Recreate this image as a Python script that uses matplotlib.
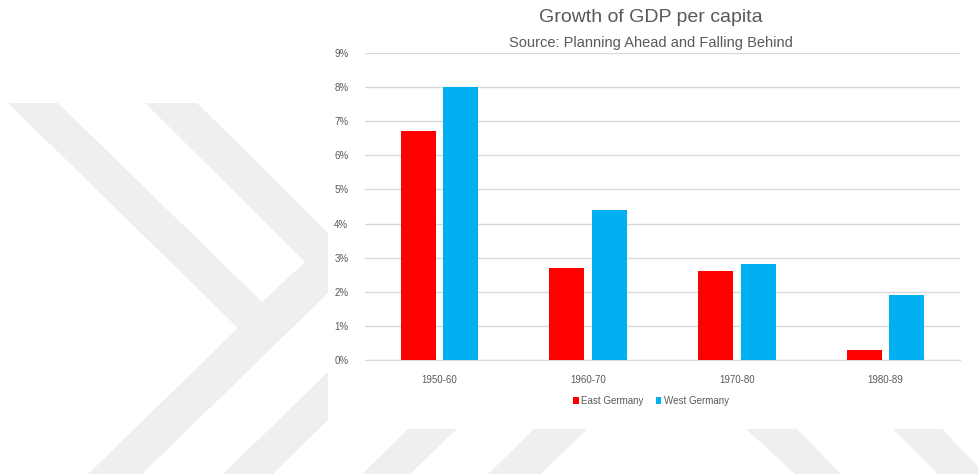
import matplotlib.pyplot as plt
from matplotlib.patches import Polygon
from matplotlib.ticker import PercentFormatter

# Data
periods = ["1950-60", "1960-70", "1970-80", "1980-89"]
east_germany = [6.7, 2.7, 2.6, 0.3]
west_germany = [8.0, 4.4, 2.8, 1.9]

W, H = 979, 474
plt.rcParams["font.family"] = ["Liberation Sans Narrow", "Liberation Sans", "DejaVu Sans"]


def px(points):
    # pixel coords (origin top-left) -> figure fraction
    return [(x / W, 1 - y / H) for x, y in points]


def draw_watermark(fig):
    grey = "#efefef"
    shapes = [
        [(8, 103), (58, 103), (262, 302), (305, 262), (145, 103), (197, 103),
         (328, 233), (328, 293), (142, 474), (88, 474), (238, 328)],
        [(328, 372), (328, 420), (273, 474), (223, 474)],
        [(408, 429), (457, 429), (410, 474), (362, 474)],
        [(534, 429), (587, 429), (541, 474), (488, 474)],
        [(746, 429), (797, 429), (841, 474), (795, 474)],
        [(893, 429), (942, 429), (985, 474), (938, 474)],
    ]
    for pts in shapes:
        fig.patches.append(Polygon(px(pts), closed=True, transform=fig.transFigure,
                                   facecolor=grey, edgecolor="none", zorder=0))


def plot_growth():
    fig = plt.figure(figsize=(W / 100, H / 100), dpi=100)
    draw_watermark(fig)

    ax = fig.add_axes([365 / W, 1 - 360 / H, 595 / W, 307 / H])
    ax.set_facecolor("none")

    x = range(len(periods))
    width = 0.235
    off = 0.143
    ax.bar([i - off for i in x], east_germany, width, color="#ff0000", label="East Germany", zorder=3)
    ax.bar([i + off for i in x], west_germany, width, color="#00b0f0", label="West Germany", zorder=3)

    ax.set_xlim(-0.5, len(periods) - 0.5)
    ax.set_ylim(0, 9)
    ax.set_yticks(range(0, 10))
    ax.yaxis.set_major_formatter(PercentFormatter(decimals=0))
    ax.set_xticks(list(x))
    ax.set_xticklabels(periods)
    ax.grid(axis="y", color="#d9d9d9", linewidth=1, zorder=0)
    ax.tick_params(length=0, labelsize=7, labelcolor="#595959")
    ax.tick_params(axis="x", pad=11)
    ax.tick_params(axis="y", pad=12)
    for side in ["top", "right", "left"]:
        ax.spines[side].set_visible(False)
    ax.spines["bottom"].set_color("#d9d9d9")

    fig.text(651 / W, 1 - 18 / H, "Growth of GDP per capita", ha="center", va="center",
             fontsize=14, color="#595959")
    fig.text(651 / W, 1 - 43 / H, "Source: Planning Ahead and Falling Behind", ha="center",
             va="center", fontsize=10.5, color="#595959")

    fig.legend(loc="center", bbox_to_anchor=(651 / W, 1 - 401 / H), ncol=2, frameon=False,
               fontsize=7, labelcolor="#595959", handlelength=0.6, handleheight=0.6,
               handletextpad=0.3, columnspacing=1.2)

    fig.savefig("out.png", dpi=100, facecolor="white")


def main():
    plot_growth()


if __name__ == "__main__":
    main()
